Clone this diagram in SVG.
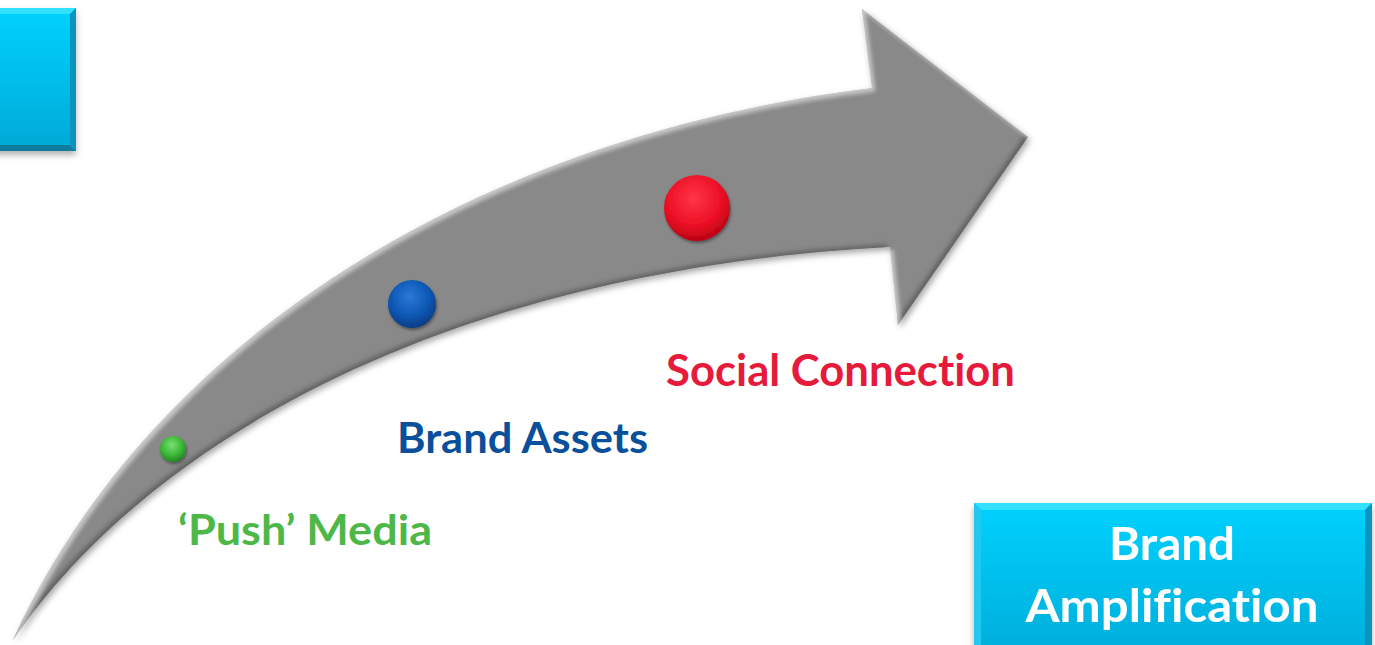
<svg xmlns="http://www.w3.org/2000/svg" width="1375" height="645" viewBox="0 0 1375 645">
  <defs>
    <style>
      .lbl { font-family: Lato, "Open Sans", "Liberation Sans", sans-serif; font-weight: 700; font-variant-ligatures: none; font-feature-settings: "liga" 0, "clig" 0, "dlig" 0; }
      .boxtxt { font-family: Lato, "Open Sans", "Liberation Sans", sans-serif; font-weight: 700; fill: #ffffff; font-size: 46px; text-anchor: middle; font-variant-ligatures: none; font-feature-settings: "liga" 0, "clig" 0, "dlig" 0; }
    </style>
    <linearGradient id="boxFace" x1="0" y1="0" x2="0" y2="1">
      <stop offset="0" stop-color="#04D2FF"/>
      <stop offset="1" stop-color="#06A9D6"/>
    </linearGradient>
    <radialGradient id="gGreen" cx="0.45" cy="0.35" r="0.7">
      <stop offset="0" stop-color="#7BE06E"/>
      <stop offset="0.55" stop-color="#3DB83A"/>
      <stop offset="1" stop-color="#1D7F1E"/>
    </radialGradient>
    <radialGradient id="gBlue" cx="0.45" cy="0.35" r="0.7">
      <stop offset="0" stop-color="#2C78D8"/>
      <stop offset="0.6" stop-color="#0B56B2"/>
      <stop offset="1" stop-color="#06357A"/>
    </radialGradient>
    <radialGradient id="gRed" cx="0.45" cy="0.35" r="0.7">
      <stop offset="0" stop-color="#FF3646"/>
      <stop offset="0.6" stop-color="#EC0F25"/>
      <stop offset="1" stop-color="#B00012"/>
    </radialGradient>
    <filter id="bevel" x="-10%" y="-10%" width="120%" height="120%">
      <feGaussianBlur in="SourceAlpha" stdDeviation="3" result="sb"/>
      <feOffset in="sb" dx="2" dy="3" result="so"/>
      <feFlood flood-color="#000" flood-opacity="0.35"/>
      <feComposite in2="so" operator="in" result="shadow"/>
      <feOffset in="SourceAlpha" dx="-3" dy="-3" result="o1"/>
      <feGaussianBlur in="o1" stdDeviation="2" result="b1"/>
      <feComposite in="SourceAlpha" in2="b1" operator="out" result="e1"/>
      <feFlood flood-color="#2e2e2e" flood-opacity="0.55"/>
      <feComposite in2="e1" operator="in" result="dark"/>
      <feOffset in="SourceAlpha" dx="3" dy="3" result="o2"/>
      <feGaussianBlur in="o2" stdDeviation="2" result="b2"/>
      <feComposite in="SourceAlpha" in2="b2" operator="out" result="e2"/>
      <feFlood flood-color="#ffffff" flood-opacity="0.45"/>
      <feComposite in2="e2" operator="in" result="light"/>
      <feMerge>
        <feMergeNode in="shadow"/>
        <feMergeNode in="SourceGraphic"/>
        <feMergeNode in="dark"/>
        <feMergeNode in="light"/>
      </feMerge>
    </filter>
    <filter id="ballShadow" x="-30%" y="-30%" width="160%" height="160%">
      <feGaussianBlur in="SourceAlpha" stdDeviation="1.5" result="b"/>
      <feOffset in="b" dx="1" dy="2" result="o"/>
      <feFlood flood-color="#000" flood-opacity="0.4"/>
      <feComposite in2="o" operator="in" result="s"/>
      <feMerge><feMergeNode in="s"/><feMergeNode in="SourceGraphic"/></feMerge>
    </filter>
    <filter id="boxShadow" x="-10%" y="-10%" width="120%" height="130%">
      <feGaussianBlur in="SourceAlpha" stdDeviation="3" result="b"/>
      <feOffset in="b" dx="0" dy="4" result="o"/>
      <feFlood flood-color="#000" flood-opacity="0.3"/>
      <feComposite in2="o" operator="in" result="s"/>
      <feMerge><feMergeNode in="s"/><feMergeNode in="SourceGraphic"/></feMerge>
    </filter>
  </defs>

  <rect x="0" y="0" width="1375" height="645" fill="#ffffff"/>

  <!-- Top-left box -->
  <g id="box-topleft" filter="url(#boxShadow)">
    <rect x="-20" y="8" width="96" height="143" fill="url(#boxFace)"/>
    <polygon points="-20,8 76,8 70,14 -20,14" fill="#3FE3FF" opacity="0.8"/>
    <polygon points="76,8 76,151 70,145 70,14" fill="#0994BC"/>
    <polygon points="-20,151 76,151 70,145 -20,145" fill="#0A7C9E"/>
  </g>

  <!-- Curved arrow -->
  <g id="arrow">
    <path d="M13,640 C140,360 450,140 872,88 L862,9 L1028,137 L898,325 L890,247 C450,270 150,440 13,640 Z" fill="#898989" filter="url(#bevel)"/>
  </g>

  <!-- Stage markers -->
  <g id="node-push">
    <circle cx="173" cy="449" r="13" fill="url(#gGreen)" filter="url(#ballShadow)"/>
    <text class="lbl" x="178" y="545" font-size="42" fill="#4DB848" textLength="254" lengthAdjust="spacingAndGlyphs">‘Push’ Media</text>
  </g>
  <g id="node-assets">
    <circle cx="412" cy="304" r="24" fill="url(#gBlue)" filter="url(#ballShadow)"/>
    <text class="lbl" x="397" y="453" font-size="42" fill="#0A4F9A" textLength="251" lengthAdjust="spacingAndGlyphs">Brand Assets</text>
  </g>
  <g id="node-social">
    <circle cx="697" cy="208" r="33" fill="url(#gRed)" filter="url(#ballShadow)"/>
    <text class="lbl" x="666" y="386" font-size="44" fill="#E61A3A" textLength="349" lengthAdjust="spacingAndGlyphs">Social Connection</text>
  </g>

  <!-- Bottom-right box -->
  <g id="box-amplification" filter="url(#boxShadow)">
    <rect x="974" y="503" width="398" height="170" fill="url(#boxFace)"/>
    <polygon points="974,503 1372,503 1365,510 981,510" fill="#3FE3FF" opacity="0.8"/>
    <polygon points="974,503 981,510 981,673 974,673" fill="#22C8EE"/>
    <polygon points="1372,503 1372,673 1365,673 1365,510" fill="#0994BC"/>
    <text class="boxtxt" x="1172" y="560" textLength="126" lengthAdjust="spacingAndGlyphs">Brand</text>
    <text class="boxtxt" x="1172" y="622" textLength="293" lengthAdjust="spacingAndGlyphs">Amplification</text>
  </g>
</svg>
